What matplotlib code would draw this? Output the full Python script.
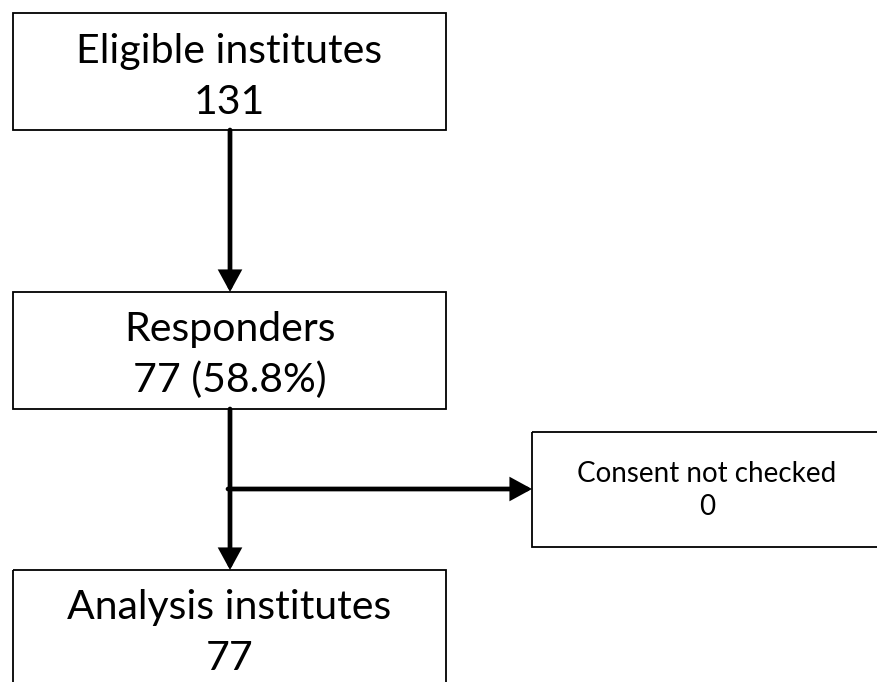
import matplotlib.pyplot as plt
from matplotlib.patches import Rectangle

# =========================
# Flow chart data
# =========================
titles = ["Eligible institutes", "Responders", "Analysis institutes"]
counts = ["131", "77 (58.8%)", "77"]
side_title = "Consent not checked"
side_count = "0"

# layout in pixels (figure is 877 x 682, y goes down)
W, H = 877, 682
main_x0, main_x1 = 13, 446
main_boxes = [(13, 130), (292, 409), (570, 688)]
side_box = (532, 890, 432, 547)
col_x = 230
branch_y = 489

plt.rcParams["font.family"] = ["Lato", "DejaVu Sans"]

fig = plt.figure(figsize=(W / 100, H / 100), dpi=100)
ax = fig.add_axes([0, 0, 1, 1])
ax.set_xlim(0, W)
ax.set_ylim(H, 0)
ax.axis("off")

box_lw = 1.3
arrow_kw = dict(arrowstyle="-|>,head_length=0.55,head_width=0.3",
                lw=3.4, color="black", shrinkA=0, shrinkB=0,
                mutation_scale=20, joinstyle="miter")

for (top, bottom), title, count in zip(main_boxes, titles, counts):
    ax.add_patch(Rectangle((main_x0, top), main_x1 - main_x0, bottom - top,
                           fill=False, ec="black", lw=box_lw))
    mid = (top + 71 - 13) if bottom > H else (top + bottom) / 2
    ax.text((main_x0 + main_x1) / 2, mid - 9, title, ha="center",
            va="baseline", fontsize=29.5)
    ax.text((main_x0 + main_x1) / 2, mid + 42, count, ha="center",
            va="baseline", fontsize=29.5)

# side box
sx0, sx1, sy0, sy1 = side_box
ax.add_patch(Rectangle((sx0, sy0), sx1 - sx0, sy1 - sy0,
                       fill=False, ec="black", lw=box_lw, clip_on=False))
ax.text(707, 482, side_title, ha="center", va="baseline", fontsize=20)
ax.text(707, 515, side_count, ha="center", va="baseline", fontsize=20)

# arrows
ax.annotate("", xy=(col_x, main_boxes[1][0]), xytext=(col_x, main_boxes[0][1]),
            arrowprops=arrow_kw)
ax.annotate("", xy=(col_x, main_boxes[2][0]), xytext=(col_x, main_boxes[1][1]),
            arrowprops=arrow_kw)
ax.annotate("", xy=(sx0, branch_y), xytext=(col_x - 2, branch_y),
            arrowprops=arrow_kw)

fig.savefig("out.png", dpi=100, facecolor="white")
